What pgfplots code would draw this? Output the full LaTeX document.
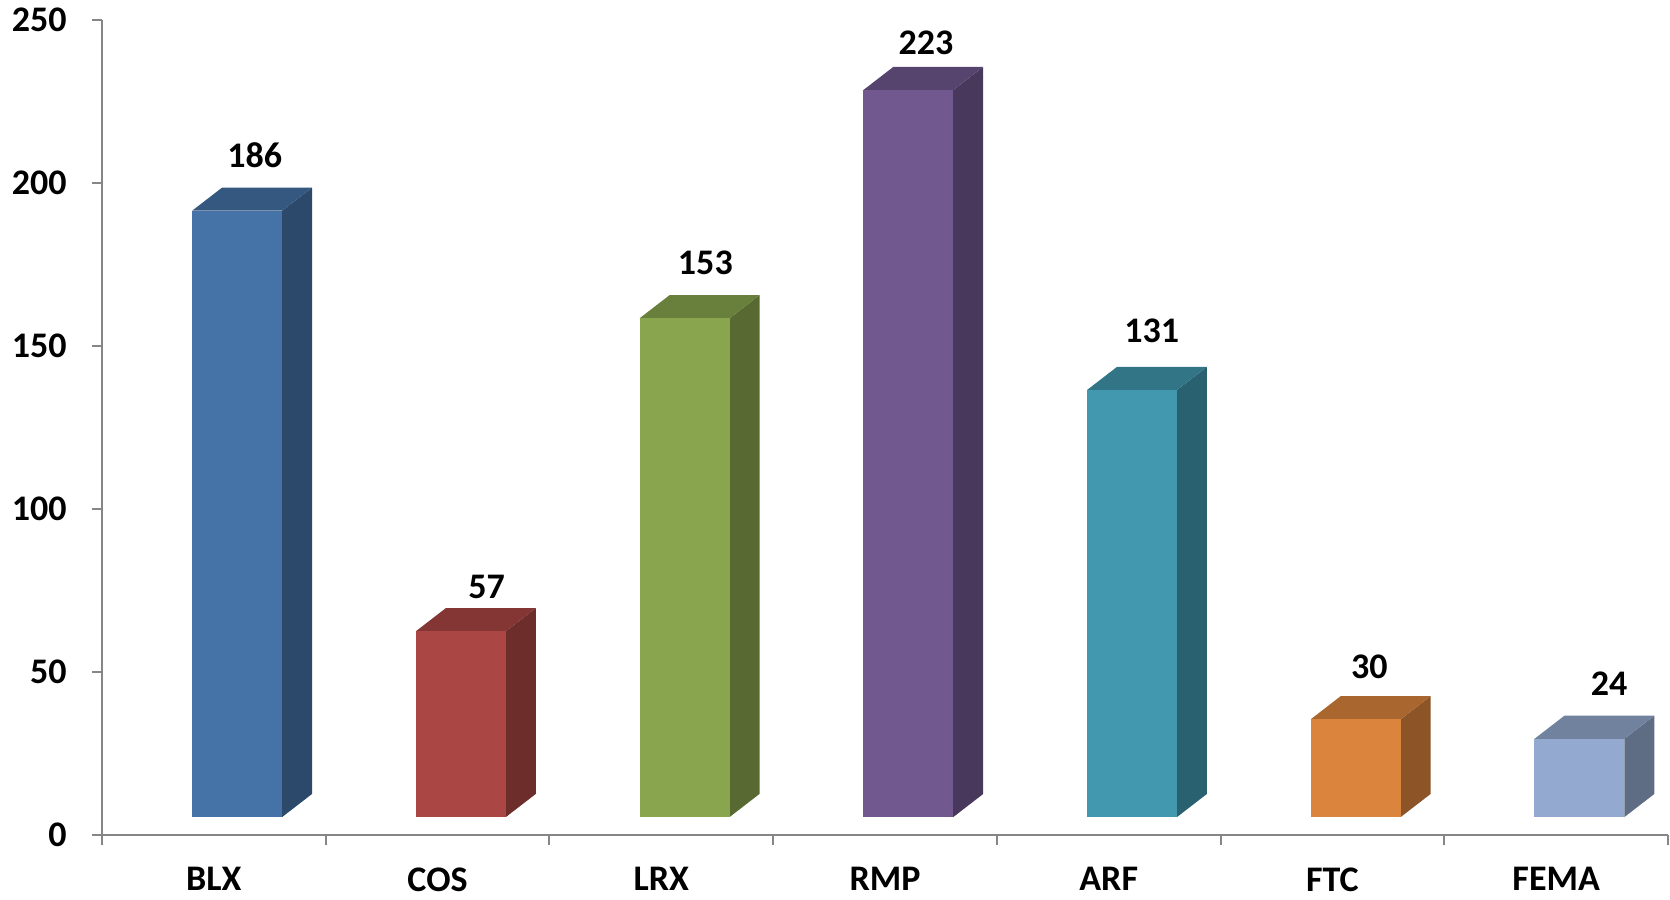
\documentclass[border=0pt]{standalone}
\usepackage{pgfplots}
\pgfplotsset{compat=1.18}
\usepackage{fontspec}
\setmainfont{Carlito}
\definecolor{axisgray}{RGB}{134,134,134}
\definecolor{cBLX}{HTML}{4572A7}
\definecolor{cCOS}{HTML}{AA4643}
\definecolor{cLRX}{HTML}{89A54E}
\definecolor{cRMP}{HTML}{71588F}
\definecolor{cARF}{HTML}{4198AF}
\definecolor{cFTC}{HTML}{DB843D}
\definecolor{cFEMA}{HTML}{93A9CF}
\newcommand\lblfont{\fontsize{18pt}{21pt}\selectfont\bfseries}
% #1 category index, #2 value, #3 colour
\newcommand\threedbar[3]{%
  \pgfmathsetmacro\xl{#1-0.097}%
  \pgfmathsetmacro\xr{#1+0.305}%
  \pgfmathsetmacro\xrb{#1+0.439}%
  \pgfmathsetmacro\xlb{#1+0.037}%
  \pgfmathsetmacro\yf{#2+5.5}%
  \pgfmathsetmacro\yb{#2+12.6}%
  \edef\doit{%
    \noexpand\addplot[draw=none, fill=#3!64!black] coordinates {(\xr,5.5) (\xrb,12.6) (\xrb,\yb) (\xr,\yf)};
    \noexpand\addplot[draw=none, fill=#3!77!black] coordinates {(\xl,\yf) (\xr,\yf) (\xrb,\yb) (\xlb,\yb)};
    \noexpand\addplot[draw=none, fill=#3] coordinates {(\xl,5.5) (\xr,5.5) (\xr,\yf) (\xl,\yf)};
  }\doit
}
\begin{document}
\begin{tikzpicture}
\begin{axis}[
  name=ax,
  scale only axis,
  width=783pt, height=407.5pt,
  xmin=-0.5, xmax=6.5, ymin=0, ymax=250,
  axis x line*=bottom, axis y line*=left,
  axis line style={draw=axisgray, line width=1pt},
  tick align=outside,
  major tick length=5pt, minor tick length=5pt,
  tick style={draw=axisgray, line width=1pt},
  ytick={0,50,...,250},
  xtick={0,1,2,3,4,5,6},
  xticklabels={BLX,COS,LRX,RMP,ARF,FTC,FEMA},
  minor xtick={-0.5,0.5,1.5,2.5,3.5,4.5,5.5,6.5},
  major x tick style={draw=none},
  /pgf/number format/assume math mode=true,
  ticklabel style={font=\lblfont, inner sep=0pt},
  yticklabel shift=12.5pt,
  xticklabel shift=11pt,
  every node near coord/.append style={font=\lblfont, anchor=base, inner sep=0pt},
]
\threedbar{0}{186}{cBLX}
\threedbar{1}{57}{cCOS}
\threedbar{2}{153}{cLRX}
\threedbar{3}{223}{cRMP}
\threedbar{4}{131}{cARF}
\threedbar{5}{30}{cFTC}
\threedbar{6}{24}{cFEMA}
\addplot[draw=none, mark=none, nodes near coords, point meta=explicit symbolic]
  coordinates {(0.183,204.9) [186] (1.219,72.4) [57] (2.197,171.8) [153]
               (3.183,239.3) [223] (4.192,151.2) [131] (5.165,47.9) [30]
               (6.237,42.9) [24]};
\end{axis}
\pgfresetboundingbox
\path ([shift={(-51pt,-32pt)}]ax.south west) rectangle ([shift={(1pt,10pt)}]ax.north east);
\end{tikzpicture}
\end{document}
